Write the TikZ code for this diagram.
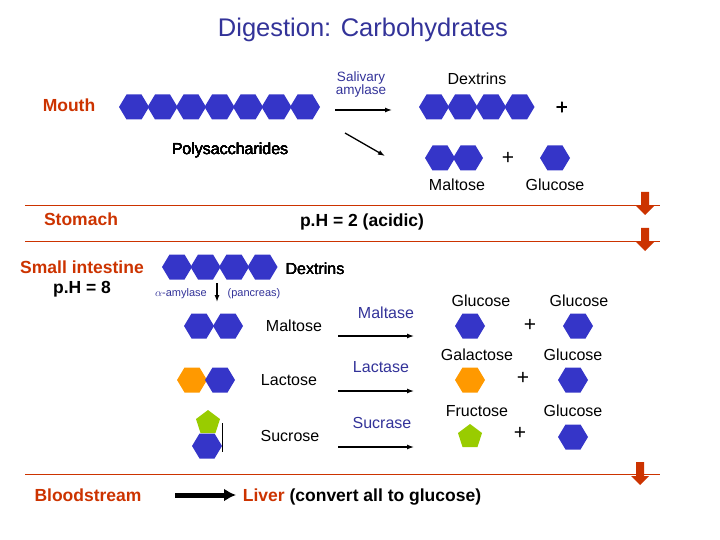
\documentclass[tikz,border=0pt]{standalone}
\usepackage{fontspec}
\setmainfont{Liberation Sans}
\usetikzlibrary{arrows.meta}
\begin{document}
\definecolor{hexblue}{HTML}{3535C8}
\definecolor{sorange}{HTML}{FF9900}
\definecolor{sgreen}{HTML}{99CC00}
\definecolor{redbrown}{HTML}{CC3300}
\definecolor{titleblue}{HTML}{333399}
\begin{tikzpicture}[x=1pt,y=-1pt,
  lbl/.style={font=\fontsize{16}{18}\selectfont},
  side/.style={font=\fontsize{17.5}{20}\selectfont\bfseries,text=redbrown},
  enz/.style={font=\fontsize{16}{18}\selectfont,text=titleblue,align=center},
  plus/.style={font=\fontsize{21}{24}\selectfont},
  arr/.style={-{Latex[length=7pt,width=5pt]},line width=1.3pt},
  hx/.style={fill=hexblue},
  rarrow/.style={fill=redbrown}]
\useasboundingbox (0,0) rectangle (720,540);
\newcommand\hexa[3][hx]{\fill[#1] (#2,#3) +(-15,0) -- +(-7.5,-12.5) -- +(7.5,-12.5) -- +(15,0) -- +(7.5,12.5) -- +(-7.5,12.5) -- cycle;}
\newcommand\penta[2]{\fill[sgreen] (#1,#2) +(0,-12) -- +(12,-3) -- +(7.5,11) -- +(-7.5,11) -- +(-12,-3) -- cycle;}
\newcommand\redarr[2]{\fill[rarrow] (#1,#2) +(-4,0) -- +(4,0) -- +(4,14) -- +(9,14) -- +(0,23) -- +(-9,14) -- +(-4,14) -- cycle;}

\node[font=\fontsize{25.5}{30}\selectfont,text=titleblue] (title) at (363,30) {Digestion: Carbohydrates};

% separator lines
\draw[redbrown] (25,205) -- (660,205);
\draw[redbrown] (25,241) -- (660,241);
\draw[redbrown] (25,474) -- (660,474);
\redarr{645}{192}
\redarr{645}{228}
\redarr{640}{462}

% mouth
\node[side] (mouth) at (69,105) {Mouth};
\foreach \i in {0,...,6} \hexa{134+28.5*\i}{107}
\node[lbl] (poly) at (230,150) {Polysaccharides};
\node[enz,font=\fontsize{13.5}{13}\selectfont] (sal) at (361,85) {Salivary\\amylase};
\coordinate (a1) at (335,110); \coordinate (a2) at (392,110);
\draw[arr] (a1) -- (a2);
\coordinate (b1) at (345,133); \coordinate (b2) at (385,156);
\draw[arr] (b1) -- (b2);
\node[lbl] (dex) at (477,79) {Dextrins};
\foreach \i in {0,...,3} \hexa{434+28.5*\i}{107}
\node[plus] (p1) at (562,108) {+};
\hexa{440}{158}\hexa{468}{158}
\node[plus] (p2) at (508,158) {+};
\hexa{555}{158}
\node[lbl] (malt) at (457,185) {Maltose};
\node[lbl] (glc) at (555,185) {Glucose};

% stomach
\node[side] (stom) at (81,219) {Stomach};
\node[font=\fontsize{17.5}{20}\selectfont\bfseries] (ph2) at (362,222) {p.H = 2 (acidic)};

% small intestine
\node[side] (si) at (82,267) {Small intestine};
\node[font=\fontsize{17.5}{20}\selectfont\bfseries] (ph8) at (82,289) {p.H = 8};
\foreach \i in {0,...,3} \hexa{177+28.5*\i}{267}
\node[lbl] (dex2) at (315,269) {Dextrins};
\node[enz,font=\fontsize{11}{12}\selectfont] (aam) at (181,294) {$\alpha$-amylase};
\node[enz,font=\fontsize{11}{12}\selectfont] (pan) at (254,294) {(pancreas)};
\coordinate (c1) at (217,283); \coordinate (c2) at (217,302);
\draw[arr] (c1) -- (c2);

\hexa{199}{326}\hexa{228}{326}
\node[lbl] (malt2) at (294,326) {Maltose};
\hexa[fill=sorange]{192}{380}\hexa{220}{380}
\node[lbl] (lac) at (289,380) {Lactose};
\penta{208}{422}
\hexa{207}{446}
\coordinate (s1) at (222,423); \coordinate (s2) at (222,452);
\draw (s1) -- (s2);
\node[lbl] (suc) at (290,436) {Sucrose};

\node[enz] (maltase) at (386,313) {Maltase};
\coordinate (m1) at (338,336); \coordinate (m2) at (414,336);
\draw[arr] (m1) -- (m2);
\node[enz] (lactase) at (381,367) {Lactase};
\coordinate (l1) at (338,391); \coordinate (l2) at (414,391);
\draw[arr] (l1) -- (l2);
\node[enz] (sucrase) at (382,423) {Sucrase};
\coordinate (u1) at (338,447); \coordinate (u2) at (414,447);
\draw[arr] (u1) -- (u2);

\node[lbl] (g1) at (481,301) {Glucose};
\node[lbl] (g2) at (579,301) {Glucose};
\hexa{470}{326}\hexa{578}{326}
\node[plus] (p3) at (530,325) {+};
\node[lbl] (gal) at (477,355) {Galactose};
\node[lbl] (g3) at (573,355) {Glucose};
\hexa[fill=sorange]{470}{380}\hexa{573}{380}
\node[plus] (p4) at (523,378) {+};
\node[lbl] (fru) at (477,411) {Fructose};
\node[lbl] (g4) at (573,411) {Glucose};
\penta{470}{436}\hexa{573}{437}
\node[plus] (p5) at (520,433) {+};

% bloodstream
\node[side] (blood) at (88,495) {Bloodstream};
\coordinate (bl1) at (175,495); \coordinate (bl2) at (236,495);
\draw[-{Latex[length=12pt,width=13pt]},line width=5pt] (bl1) -- (bl2);
\node[font=\fontsize{17.5}{20}\selectfont\bfseries] (liver) at (362,497) {\textcolor{redbrown}{Liver} (convert all to glucose)};
\end{tikzpicture}
\end{document}
